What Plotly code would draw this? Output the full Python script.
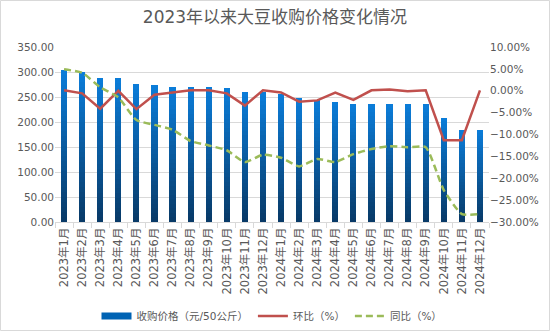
import plotly.graph_objects as go

categories = ["2023年1月", "2023年2月", "2023年3月", "2023年4月", "2023年5月", "2023年6月",
              "2023年7月", "2023年8月", "2023年9月", "2023年10月", "2023年11月", "2023年12月",
              "2024年1月", "2024年2月", "2024年3月", "2024年4月", "2024年5月", "2024年6月",
              "2024年7月", "2024年8月", "2024年9月", "2024年10月", "2024年11月", "2024年12月"]
price = [304, 301, 288, 288, 276, 274, 271, 271, 271, 269, 260, 260,
         256, 248, 244, 241, 236, 236, 236, 236, 236, 209, 185, 185]
mom = [0.1, -0.6, -4.1, 0.0, -4.2, -0.9, -0.4, 0.1, 0.1, -0.6, -3.4, 0.1,
       -0.4, -2.5, -2.2, -0.4, -2.1, 0.1, 0.3, -0.1, 0.1, -11.3, -11.3, 0.1]
yoy = [4.9, 4.1, 0.8, -1.5, -6.7, -7.8, -8.9, -11.5, -12.5, -13.6, -16.3, -14.6,
       -15.3, -17.3, -15.6, -16.3, -14.5, -13.3, -12.7, -12.9, -12.9, -22.7, -28.2, -28.2]

FONT = "DejaVu Sans, Noto Sans CJK SC, sans-serif"
GRAY = "#595959"

ML, MR, MT, MB = 55, 61, 47, 109
W, H = 550, 331
PW, PH = W - ML - MR, H - MT - MB

fig = go.Figure()

# gradient bars via stacked segments
N = 30
top = (0x0B, 0x7C, 0xD8)
bot = (0x08, 0x3A, 0x68)
for k in range(N):
    t = k / (N - 1)
    c = tuple(int(round(bot[i] + (top[i] - bot[i]) * t)) for i in range(3))
    color = "rgb(%d,%d,%d)" % c
    fig.add_trace(go.Bar(
        x=categories, y=[v / N for v in price],
        marker=dict(color=color, line=dict(width=0)),
        name="收购价格（元/50公斤）",
        showlegend=False,
        legendgroup="price",
        yaxis="y",
    ))

# legend entry for the bars (wide rectangle icon)
fig.add_trace(go.Scatter(
    x=[None], y=[None], mode="lines", name="收购价格（元/50公斤）",
    line=dict(color="#0063b4", width=7), legendgroup="price", yaxis="y",
))

fig.add_trace(go.Scatter(
    x=categories, y=mom, name="环比（%）", mode="lines",
    line=dict(color="#c0504d", width=2.5), yaxis="y2",
))
fig.add_trace(go.Scatter(
    x=categories, y=yoy, name="同比（%）", mode="lines",
    line=dict(color="#9bbb59", width=2.5, dash="7px,4px", shape="spline", smoothing=0.5),
    yaxis="y2",
))

fig.update_layout(
    width=W, height=H,
    margin=dict(l=ML, r=MR, t=MT, b=MB, pad=0, autoexpand=False),
    paper_bgcolor="white", plot_bgcolor="white",
    barmode="stack", bargap=0.66,
    font=dict(family=FONT, size=10.5, color=GRAY),
    title=dict(text="2023年以来大豆收购价格变化情况", x=0.5, xanchor="center",
               y=1 - 17 / H, yanchor="middle",
               font=dict(family=FONT, size=17, color=GRAY)),
    xaxis=dict(type="category", tickangle=-90, showgrid=False, automargin=False,
               showline=True, linecolor="#d9d9d9", linewidth=1,
               ticks="outside", tickson="boundaries", ticklen=5, tickcolor="#d9d9d9",
               tickfont=dict(size=11.5, color=GRAY)),
    yaxis=dict(range=[0, 350], dtick=50, tickformat=".2f", showgrid=True, automargin=False,
               gridcolor="#d9d9d9", gridwidth=1, zeroline=False, showline=False,
               ticks="", tickfont=dict(size=10.5, color=GRAY)),
    yaxis2=dict(range=[-30, 10], dtick=5, tickformat=".2f", ticksuffix="%", automargin=False,
                overlaying="y", side="right", showgrid=False, zeroline=False,
                showline=False, tickfont=dict(size=10.5, color=GRAY)),
    legend=dict(orientation="h", x=0.5, xanchor="center", y=-(316 - MT - PH) / PH,
                yanchor="middle", font=dict(size=10.5, color=GRAY),
                itemwidth=30, tracegroupgap=0, bgcolor="rgba(0,0,0,0)"),
    shapes=[dict(type="rect", xref="paper", yref="paper",
                 x0=-(ML - 0.5) / PW, x1=1 + (MR - 0.5) / PW,
                 y0=-(MB - 0.5) / PH, y1=1 + (MT - 0.5) / PH,
                 line=dict(color="#d9d9d9", width=1), layer="below")],
)

fig.write_html("out.html")
